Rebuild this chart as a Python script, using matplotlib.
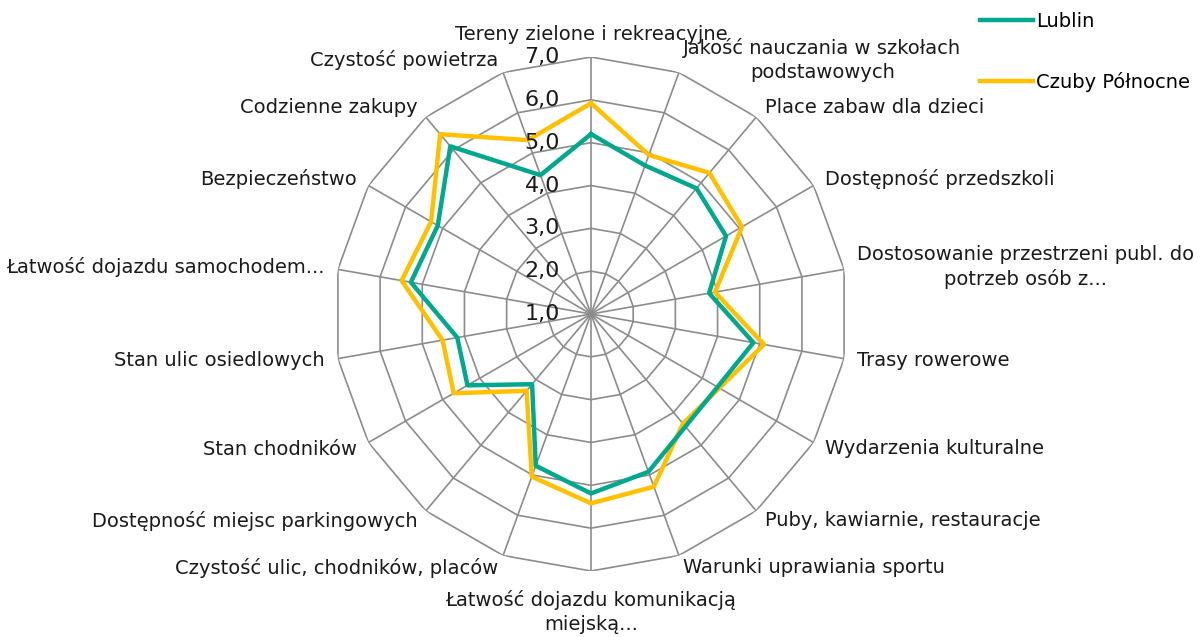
import numpy as np
import matplotlib
matplotlib.use('Agg')
import matplotlib.pyplot as plt
from matplotlib.transforms import offset_copy

plt.rcParams['font.family'] = ['DejaVu Sans']

categories = ['Tereny zielone i rekreacyjne',
              'Jakość nauczania w szkołach\npodstawowych',
              'Place zabaw dla dzieci',
              'Dostępność przedszkoli',
              'Dostosowanie przestrzeni publ. do\npotrzeb osób z...',
              'Trasy rowerowe',
              'Wydarzenia kulturalne',
              'Puby, kawiarnie, restauracje',
              'Warunki uprawiania sportu',
              'Łatwość dojazdu komunikacją\nmiejską...',
              'Czystość ulic, chodników, placów',
              'Dostępność miejsc parkingowych',
              'Stan chodników',
              'Stan ulic osiedlowych',
              'Łatwość dojazdu samochodem...',
              'Bezpieczeństwo',
              'Codzienne zakupy',
              'Czystość powietrza']

lublin = [5.20, 4.69, 4.83, 4.64, 3.80, 4.85, 4.41, 4.43, 4.92, 5.19,
          4.77, 3.14, 4.33, 4.17, 5.27, 5.13, 6.11, 4.45]
czuby = [5.92, 4.95, 5.30, 5.07, 3.94, 5.10, 4.46, 4.34, 5.29, 5.42,
         5.04, 3.34, 4.70, 4.52, 5.49, 5.31, 6.48, 5.32]

rings = [1, 2, 3, 4, 5, 6, 7]
ring_labels = ['1,0', '2,0', '3,0', '4,0', '5,0', '6,0', '7,0']

n = len(categories)
angles = np.linspace(0, 2 * np.pi, n, endpoint=False)
closed = np.append(angles, angles[0])

fig = plt.figure(figsize=(12.02, 6.37), dpi=100)
cx, cy, rad = 591 / 1202, 1 - 314 / 637, 257
ax = fig.add_axes([cx - rad / 1202, cy - rad / 637, 2 * rad / 1202, 2 * rad / 637],
                  projection='polar')
ax.set_theta_zero_location('N')
ax.set_theta_direction(-1)
ax.set_ylim(1, 7)
ax.grid(False)
ax.spines['polar'].set_visible(False)
ax.set_xticks([])
ax.set_yticks([])
ax.patch.set_alpha(0)

grid_col = '#8c8c8c'
for r in rings[1:]:
    ax.plot(closed, [r] * (n + 1), color=grid_col, lw=1.2, zorder=1)
for a in angles:
    ax.plot([a, a], [1, 7], color=grid_col, lw=1.2, zorder=1)

ax.plot(closed, lublin + [lublin[0]], color='#00A88E', lw=3.2, zorder=3,
        label='Lublin')
ax.plot(closed, czuby + [czuby[0]], color='#FFC000', lw=3.2, zorder=2,
        label='Czuby Północne')

# ring value labels left of the top spoke
tr = offset_copy(ax.transData, fig=fig, x=-31, y=0, units='dots')
for r, lab in zip(rings, ring_labels):
    ax.text(0, r, lab, transform=tr, ha='right', va='center', fontsize=16,
            color='#1a1a1a')

# category labels
for a, lab in zip(angles, categories):
    s, c = np.sin(a), np.cos(a)
    if s > 0.01:
        ha = 'left'
    elif s < -0.01:
        ha = 'right'
    else:
        ha = 'center'
    if abs(s) < 0.01:
        va = 'bottom' if c > 0 else 'top'
    else:
        va = 'center'
    dist = 276 if c < -0.99 else 270
    ax.text(a, 1 + dist / (rad / 6), lab, ha=ha, va=va, fontsize=14,
            color='#1a1a1a', multialignment='center', linespacing=1.35)

fig.legend(loc='upper left', bbox_to_anchor=(980 / 1202, 1 - 12 / 637),
           frameon=False, fontsize=14, handlelength=2.7, handletextpad=0.2,
           labelspacing=2.1, borderpad=0, borderaxespad=0)

fig.savefig('out.png', dpi=100)
